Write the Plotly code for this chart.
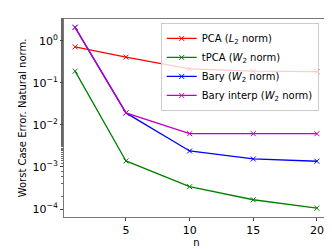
import plotly.graph_objects as go

n_vals = [1, 5, 10, 15, 20]
pca = [0.72, 0.41, 0.215, 0.19, 0.185]
tpca = [0.19, 0.00139, 0.00034, 0.000166, 0.000105]
bary = [2.1, 0.0193, 0.0024, 0.00155, 0.00137]
bary_interp = [2.1, 0.0193, 0.0062, 0.0062, 0.0062]

series = [
    ("PCA (<i>L</i><sub>2</sub> norm)", pca, "#ff0000"),
    ("tPCA (<i>W</i><sub>2</sub> norm)", tpca, "#008000"),
    ("Bary (<i>W</i><sub>2</sub> norm)", bary, "#0000ff"),
    ("Bary interp (<i>W</i><sub>2</sub> norm)", bary_interp, "#bf00bf"),
]

ytick_vals = [1e0, 1e-1, 1e-2, 1e-3, 1e-4]
ytick_text = ["10<sup>0</sup>", "10<sup>−1</sup>", "10<sup>−2</sup>", "10<sup>−3</sup>", "10<sup>−4</sup>"]
xtick_vals = [5, 10, 15, 20]

fig = go.Figure()
for name, vals, color in series:
    fig.add_trace(go.Scatter(
        x=n_vals, y=vals, name=name, mode="lines+markers",
        line=dict(color=color, width=1.3),
        marker=dict(symbol="x-thin", size=5, line=dict(color=color, width=1)),
    ))

fig.update_layout(
    width=332, height=249,
    margin=dict(l=56, r=11, t=11, b=40),
    paper_bgcolor="white", plot_bgcolor="white",
    font=dict(family="DejaVu Sans", size=11, color="black"),
    showlegend=True,
    legend=dict(
        x=0.365, y=0.98, xanchor="left", yanchor="top",
        bgcolor="rgba(255,255,255,0.8)", bordercolor="#cccccc", borderwidth=1,
        font=dict(size=10), tracegroupgap=0, itemwidth=30,
    ),
    xaxis=dict(
        range=[0.13, 20.95], tickvals=xtick_vals,
        showgrid=False, zeroline=False,
        showline=True, linecolor="#777777", linewidth=1, mirror=True,
        ticks="outside", ticklen=3, tickcolor="#444444",
        tickfont=dict(size=11),
        title=dict(text="n", font=dict(size=10), standoff=2),
    ),
    yaxis=dict(
        type="log", range=[-4.19, 0.52],
        tickvals=ytick_vals, ticktext=ytick_text,
        showgrid=False, zeroline=False,
        showline=True, linecolor="#777777", linewidth=1, mirror=True,
        ticks="outside", ticklen=3, tickcolor="#444444",
        tickfont=dict(size=11),
        minor=dict(ticks="outside", ticklen=2, tickcolor="#666666", showgrid=False),
        title=dict(text="Worst Case Error. Natural norm.", font=dict(size=10), standoff=3),
    ),
)

fig.write_html("out.html")
